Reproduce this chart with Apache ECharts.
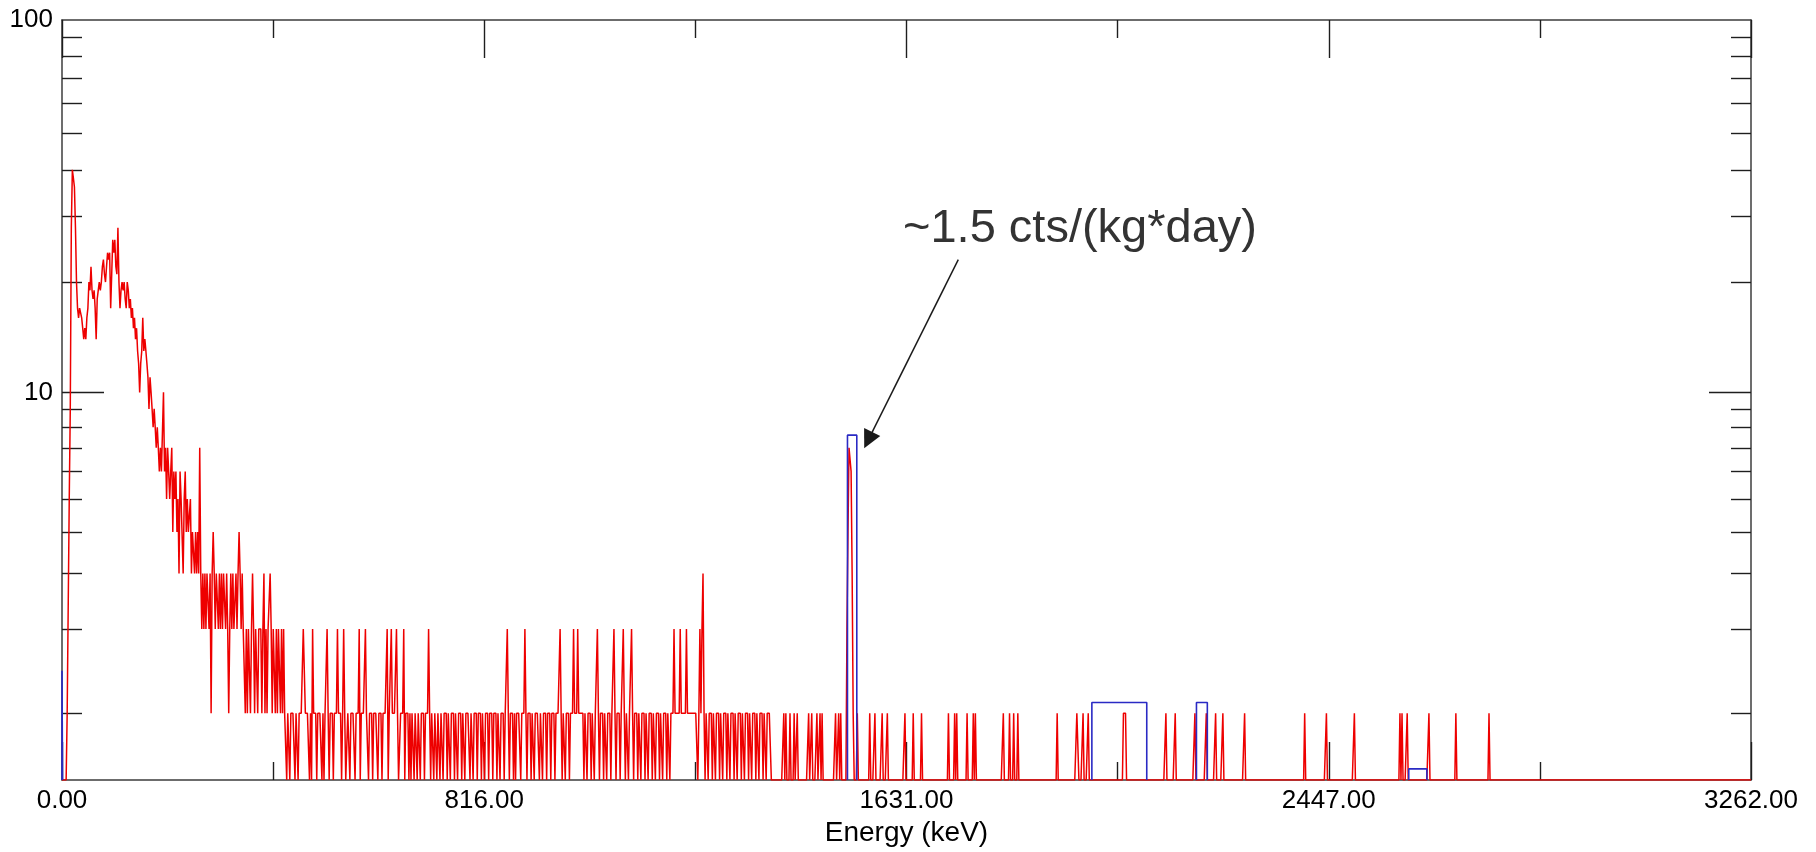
<!DOCTYPE html>
<html>
<head>
<meta charset="utf-8">
<script src="https://cdn.jsdelivr.net/npm/echarts@6/dist/echarts.min.js"></script>
<style>
html,body{margin:0;padding:0;background:#ffffff;}
#chart{width:1816px;height:852px;}
</style>
</head>
<body>
<div id="chart"></div>
<script>
// ---------- data ----------
const BIN_KEV = 2;          // histogram bin width (keV)
const E_MAX = 3262;         // end of energy axis (keV)
const X_INTERVAL = 815.5;   // labelled tick spacing
const xTickLabels = ['0.00', '816.00', '1631.00', '2447.00', '3262.00'];

// counts per 2 keV bin, E = 0 .. 430 keV
const countsLow = [
  0,0,0,0,0,1,1,5,9,28, 40,38,36,28,20,17,16,17,17,16,
  15,14,15,14,16,17,20,19,22,19, 18,19,17,14,18,19,20,19,20,22,
  23,21,20,22,24,23,24,17,21,26, 24,26,22,21,28,20,17,19,20,19,
  20,18,17,20,19,17,18,16,17,15, 16,14,15,13,12,10,12,13,16,13,
  14,13,12,11,9,11,10,9,8,9, 8,7,8,7,6,7,6,6,10,6,
  7,5,7,6,5,6,7,4,6,5, 6,4,5,3,6,5,5,3,5,6,
  4,5,4,4,5,3,4,4,3,4, 3,4,3,7,3,2,3,2,3,2,
  3,3,2,3,1,3,4,3,2,3, 3,2,3,2,3,2,3,3,2,3,
  2,1,2,3,2,3,2,2,3,2, 3,4,3,2,3,2,2,1,2,1,
  2,2,1,2,3,2,1,2,2,1, 2,2,2,1,2,3,1,2,1,2,
  2,3,2,1,2,2,1,2,1,2, 2,1,2,1,2,1
];

// counts per 2 keV bin, E = 432 .. 1370 keV
const MID_START = 432;
const countsMid = [
  1,0,1,1,0,1,1,1,1,0, 1,1,0,1,1,1,1,2,2,1, 1,1,1,0,1,0,2,1,1,1, 0,1,1,1,1,0,1,0,1,1, 2,1,0,1,1,1,0,1,1,1,
  2,1,1,1,0,1,2,1,0,0, 1,1,0,1,1,1,1,0,1,1, 1,2,0,1,1,1,1,2,1,1, 0,1,1,1,0,1,1,1,1,0, 1,1,1,0,1,1,1,1,2,0,
  1,1,2,1,1,1,1,2,1,0, 0,1,1,1,2,0,1,1,1,0, 1,0,1,1,0,1,1,0,1,1, 0,1,1,1,0,1,1,1,2,1, 0,1,1,0,1,1,0,1,1,0,
  1,1,0,1,1,1,0,1,1,0, 1,1,1,0,1,1,0,1,1,1, 0,1,1,0,1,1,1,1,0,1, 1,0,1,1,1,0,1,1,1,0, 1,1,0,1,1,1,0,1,1,1,
  0,1,1,1,0,1,1,0,1,1, 1,0,1,1,2,1,0,1,1,1, 0,1,0,1,1,1,1,0,1,1, 1,2,1,0,1,1,1,0,1,1, 0,1,1,1,1,0,1,1,0,1,
  1,1,0,1,1,1,0,1,1,1, 0,1,1,1,1,2,1,0,1,1, 0,1,1,1,0,1,1,1,2,1, 1,1,2,1,1,1,1,1,0,1, 1,0,1,1,1,0,1,1,0,1,
  1,2,1,0,1,1,1,0,1,1, 0,1,1,1,0,1,1,2,1,0, 1,1,1,0,1,1,2,1,0,1, 1,0,1,1,2,1,0,1,1,1, 0,1,1,0,1,1,1,0,1,1,
  0,1,1,1,0,1,1,0,1,1, 1,0,1,1,0,1,1,1,0,1, 1,0,1,1,1,2,1,1,1,1, 1,2,1,1,1,1,1,2,1,1, 1,1,1,1,1,1,1,1,0,1,
  2,1,2,3,1,0,1,1,0,1, 1,1,0,1,1,0,1,1,1,0, 1,1,0,1,1,1,0,1,1,0, 1,1,1,0,1,1,0,1,1,1, 0,1,1,0,1,1,1,0,1,1,
  0,1,1,1,0,1,1,0,1,1, 1,0,1,1,0,1,1,1,1,0
];

// isolated non-zero bins above 1372 keV: [energy keV, counts]
const tailBins = [
  [1394,1],[1398,1],[1406,1],[1414,1],[1420,1],
  [1442,1],[1448,1],[1458,1],[1464,1],[1468,1],
  [1494,1],[1500,1],[1504,1],
  [1516,2],[1518,4],[1520,7],[1522,7],[1524,6],[1526,3],[1528,1],
  [1536,1],[1560,1],[1570,1],[1584,1],[1594,1],
  [1628,1],[1644,1],[1660,1],
  [1712,1],[1724,1],[1728,1],[1748,1],[1760,1],[1764,1],
  [1818,1],[1830,1],[1838,1],[1846,1],
  [1922,1],[1960,1],[1962,1],[1972,1],[1982,1],
  [2050,1],[2052,1],[2054,1],[2132,1],[2150,1],[2188,1],[2210,1],[2228,1],[2242,1],[2284,1],
  [2400,1],[2442,1],[2496,1],[2584,1],[2588,1],[2598,1],[2640,1],[2692,1],[2756,1]
];

// blue histogram boxes: [from keV, to keV, level]
const blueBins = [
  [0, 1, 1.44],
  [1517, 1535, 7.6],
  [1989, 2095, 1.1],
  [2191, 2212, 1.1],
  [2601, 2636, 0.57]
];

// y axis (the reference's log scale shows count + 0.5)
const Y_SHIFT = 0.5;
const Y_MIN = 1;
const Y_MAX = 100.5;
const yMinorTicks = [1,2,3,4,5,6,7,8,9,20,30,40,50,60,70,80,90];
const yMajorTicks = [10];
const yLabelTicks = [10, 100];

// annotation
const noteText = '~1.5 cts/(kg*day)';
const arrowFrom = [1731, 23];   // [keV, counts]
const arrowTo = [1557, 7.36];

// ---------- build ----------
const toAxis = c => Math.max(c + Y_SHIFT, Y_MIN);

const countMap = {};
countsLow.forEach((c, i) => { countMap[i * BIN_KEV] = c; });
countsMid.forEach((c, i) => { countMap[MID_START + i * BIN_KEV] = c; });
tailBins.forEach(([e, c]) => { countMap[e] = c; });
const redData = [];
for (let e = 0; e <= E_MAX; e += BIN_KEV) redData.push([e, toAxis(countMap[e] || 0)]);

const blueData = [];
blueBins.forEach(([a, b, v]) => {
  blueData.push([a, Y_MIN], [a, toAxis(v)], [b, toAxis(v)], [b, Y_MIN], [b, '-']);
});

const FONT = '"Liberation Sans", Arial, sans-serif';
const frameLine = { color: '#3c3c3c', width: 1.5 };
const tickLine = { color: '#1e1e1e', width: 1.4 };

function xAxisDef(pos, withLabels) {
  return {
    type: 'value', position: pos, min: 0, max: E_MAX, interval: X_INTERVAL,
    axisLine: { show: true, onZero: false, lineStyle: frameLine },
    axisTick: { show: true, inside: true, length: 38, lineStyle: tickLine },
    minorTick: { show: true, splitNumber: 2, length: 18, lineStyle: tickLine },
    splitLine: { show: false }, minorSplitLine: { show: false },
    axisLabel: withLabels ? {
      show: true, margin: 8, color: '#000', fontFamily: FONT, fontSize: 26,
      formatter: v => xTickLabels[Math.round(v / X_INTERVAL)]
    } : { show: false },
    name: withLabels ? 'Energy (keV)' : '',
    nameLocation: 'middle', nameGap: 39,
    nameTextStyle: { color: '#000', fontFamily: FONT, fontSize: 28 }
  };
}
function yAxisDef(pos, major, withLabels) {
  return {
    type: 'log', logBase: 10, min: Y_MIN, max: Y_MAX, position: pos, offset: 0,
    axisLine: { show: !major, onZero: false, lineStyle: frameLine },
    axisTick: {
      show: true, inside: true, length: major ? 42 : 20, lineStyle: tickLine,
      customValues: (major ? yMajorTicks : yMinorTicks).map(toAxis)
    },
    minorTick: { show: false },
    splitLine: { show: false },
    axisLabel: withLabels ? {
      show: true, margin: 9, color: '#000', fontFamily: FONT, fontSize: 26,
      customValues: yLabelTicks.map(toAxis),
      formatter: v => String(Math.round(v - Y_SHIFT))
    } : { show: false }
  };
}

const option = {
  animation: false,
  backgroundColor: '#ffffff',
  textStyle: { fontFamily: FONT },
  grid: { left: 62, right: 65, top: 20, bottom: 70, containLabel: false },
  xAxis: [xAxisDef('bottom', true), xAxisDef('top', false)],
  yAxis: [
    yAxisDef('left', false, true),
    yAxisDef('left', true, false),
    yAxisDef('right', false, false),
    yAxisDef('right', true, false)
  ],
  series: [
    {
      type: 'line', name: 'spectrum', xAxisIndex: 0, yAxisIndex: 0,
      data: redData, showSymbol: false, symbol: 'none', sampling: 'none',
      lineStyle: { color: '#ee0000', width: 1.5 }, clip: true, z: 3
    },
    {
      type: 'line', name: 'boxes', xAxisIndex: 0, yAxisIndex: 0,
      data: blueData, showSymbol: false, symbol: 'none', connectNulls: false,
      lineStyle: { color: '#2a2ac4', width: 1.6 }, z: 4,
      markLine: {
        silent: true, symbol: ['none', 'triangle'], symbolSize: 18,
        lineStyle: { color: '#1a1a1a', width: 1.5, type: 'solid' },
        label: { show: false },
        data: [[
          { coord: [arrowFrom[0], toAxis(arrowFrom[1])] },
          { coord: [arrowTo[0], toAxis(arrowTo[1])] }
        ]]
      }
    }
  ],
  graphic: [{
    type: 'text', left: 903, top: 206, z: 10,
    style: { text: noteText, fill: '#333333', font: '47px "Liberation Sans", Arial, sans-serif' }
  }]
};

const chart = echarts.init(document.getElementById('chart'), null, { renderer: 'canvas' });
chart.setOption(option);
</script>
</body>
</html>
